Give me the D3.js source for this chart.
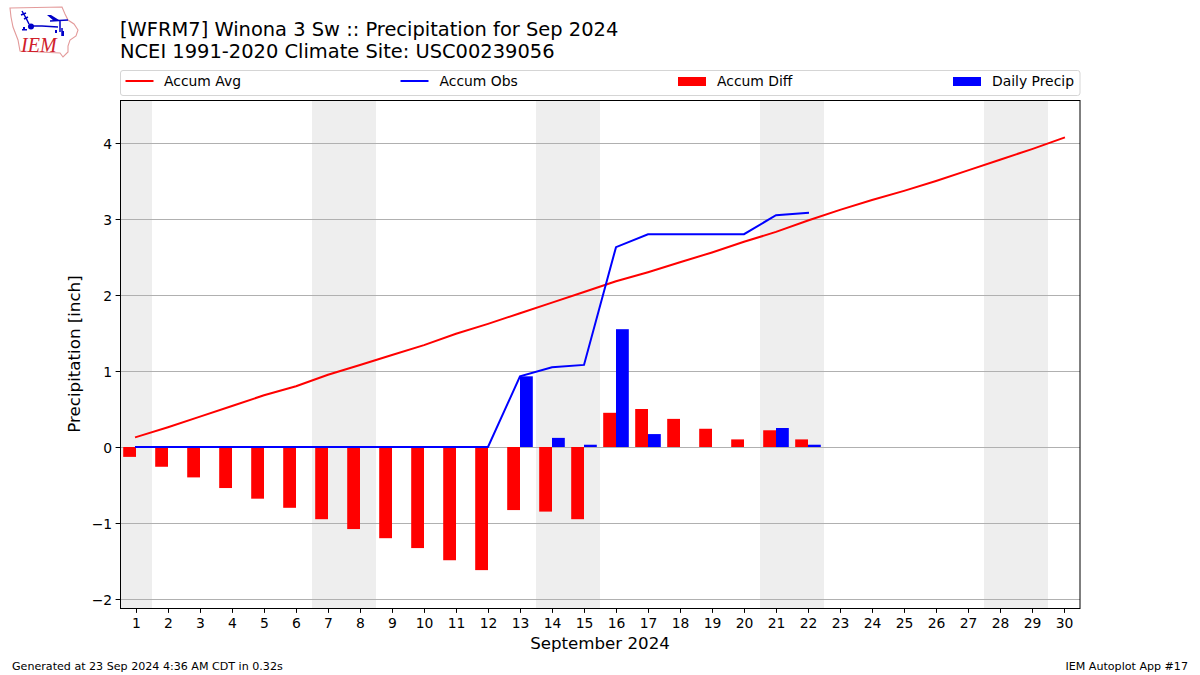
<!DOCTYPE html>
<html><head><meta charset="utf-8">
<script src="https://cdn.jsdelivr.net/npm/d3@7"></script>
<style>html,body{margin:0;padding:0;background:#fff}svg{display:block}text{font-family:"DejaVu Sans",sans-serif;fill:#000}</style>
</head><body><div id="chart"></div>
<script>
const days = d3.range(1, 31);
const accumAvg = [0.13,0.26,0.40,0.54,0.68,0.80,0.95,1.08,1.21,1.34,1.49,1.62,1.76,1.90,2.04,2.18,2.30,2.43,2.56,2.70,2.83,2.98,3.12,3.25,3.37,3.50,3.64,3.78,3.92,4.07];
const accumObs = [0,0,0,0,0,0,0,0,0,0,0,0,0.93,1.05,1.08,2.63,2.80,2.80,2.80,2.80,3.05,3.08];
const accumDiff = [-0.13,-0.26,-0.40,-0.54,-0.68,-0.80,-0.95,-1.08,-1.20,-1.33,-1.49,-1.62,-0.83,-0.85,-0.95,0.45,0.50,0.37,0.24,0.10,0.22,0.10];
const dailyPrecip = [0,0,0,0,0,0,0,0,0,0,0,0,0.93,0.12,0.03,1.55,0.17,0,0,0,0.25,0.03];
const weekendSpans = [[0.5,1.5],[6.5,8.5],[13.5,15.5],[20.5,22.5],[27.5,29.5]];
const yTicks = [-2,-1,0,1,2,3,4];
const legendItems = [
 {label:"Accum Avg",color:"#f00",kind:"line"},
 {label:"Accum Obs",color:"#00f",kind:"line"},
 {label:"Accum Diff",color:"#f00",kind:"bar"},
 {label:"Daily Precip",color:"#00f",kind:"bar"}];
const barWidth = 0.4;

const W=1200,H=675,L=120.5,R=1080,T=100,B=608;
const svg=d3.select("#chart").append("svg").attr("width",W).attr("height",H);
const x=d3.scaleLinear().domain([0.5,30.5]).range([120,1080]);
const y=d3.scaleLinear().domain([0,4]).range([447,143]);

// logo
const logo=svg.append("g").attr("fill","none");
logo.append("path").attr("stroke","#e39a9a").attr("stroke-width",1.1)
 .attr("d","M10,8 L62,7 L65,14 L68,20 L74,24 L78,30 L76,36 L70,40 L68,46 L68,52 L63,57 L60,53 L20,51 L18,40 L13,27 L11,17 Z");
logo.append("path").attr("stroke","#0000c8").attr("stroke-width",1.5)
 .attr("d","M31,26 L42,26 L58,27 M50,21 L68,20 M60,21 L60,32 M62,28 L62,36 M22,11 L26,18 L29,24 M21,15 L26,13 M24,19 L28,17");
logo.append("circle").attr("cx",31).attr("cy",26.5).attr("r",3).attr("fill","#0000c8");
logo.append("path").attr("fill","#0000c8").attr("d","M47,15 L51,15 L59,20 L54,21 Z M55,30 h2 v3 h-2 Z M62,31 h2 v5 h-2 Z M23,27 h2 v2 h-2 Z M22,29 h5 v1.5 h-5 Z");
svg.append("text").attr("x",21).attr("y",52).attr("font-size",20).attr("font-style","italic")
 .style("font-family","'Liberation Serif',serif").style("fill","#d0202a").text("IEM");

// shading
svg.selectAll("rect.wk").data(weekendSpans).join("rect").attr("class","wk")
 .attr("x",d=>x(d[0])).attr("width",d=>x(d[1])-x(d[0])).attr("y",T).attr("height",B-T).attr("fill","#eeeeee");

// grid
svg.selectAll("line.grid").data(yTicks).join("line").attr("class","grid")
 .attr("x1",L).attr("x2",R).attr("y1",d=>y(d)+.5).attr("y2",d=>y(d)+.5).attr("stroke","#b0b0b0").attr("stroke-width",1);

// bars
const zip=(arr)=>arr.map((v,i)=>({day:days[i],v}));
svg.selectAll("rect.diff").data(zip(accumDiff)).join("rect").attr("class","diff")
 .attr("x",d=>x(d.day-barWidth)).attr("width",d=>x(d.day)-x(d.day-barWidth))
 .attr("y",d=>Math.min(y(d.v),y(0))).attr("height",d=>Math.abs(y(d.v)-y(0))).attr("fill","#f00");
svg.selectAll("rect.daily").data(zip(dailyPrecip).filter(d=>d.v>0)).join("rect").attr("class","daily")
 .attr("x",d=>x(d.day)).attr("width",d=>x(d.day+barWidth)-x(d.day))
 .attr("y",d=>y(d.v)).attr("height",d=>y(0)-y(d.v)).attr("fill","#00f");

// lines
const line=d3.line().x(d=>x(d.day)).y(d=>y(d.v));
svg.append("path").datum(zip(accumAvg)).attr("d",line).attr("fill","none").attr("stroke","#f00").attr("stroke-width",2).attr("stroke-linecap","square");
svg.append("path").datum(zip(accumObs)).attr("d",line).attr("fill","none").attr("stroke","#00f").attr("stroke-width",2).attr("stroke-linecap","square");

// axes
const ax=svg.append("g").attr("transform",`translate(0,${B})`)
 .call(d3.axisBottom(x).tickValues(days).tickFormat(d3.format("d")).tickSize(4.9).tickPadding(5));
const ay=svg.append("g").attr("transform",`translate(${L},0)`)
 .call(d3.axisLeft(y).tickValues(yTicks).tickFormat(d=>d<0?"\u2212"+(-d):d).tickSize(4.9).tickPadding(3.5));
[ax,ay].forEach(g=>{g.select(".domain").remove();g.selectAll("text").attr("font-size",13.9).style("font-family","'DejaVu Sans'");g.selectAll("line").attr("stroke","#000").attr("stroke-width",1);});
ay.selectAll("text").attr("dy","0.39em");
svg.append("rect").attr("x",L).attr("y",T+.5).attr("width",R-L).attr("height",B-T).attr("fill","none").attr("stroke","#000").attr("stroke-width",1);

// labels
svg.append("text").attr("x",600).attr("y",649).attr("text-anchor","middle").attr("font-size",16.67).text("September 2024");
svg.append("text").attr("transform","translate(80,354) rotate(-90)").attr("text-anchor","middle").attr("font-size",16.67).text("Precipitation [inch]");
svg.append("text").attr("x",120).attr("y",36).attr("font-size",19.44).text("[WFRM7] Winona 3 Sw :: Precipitation for Sep 2024");
svg.append("text").attr("x",120).attr("y",58).attr("font-size",19.44).text("NCEI 1991-2020 Climate Site: USC00239056");
svg.append("text").attr("x",12).attr("y",670).attr("font-size",11.1).text("Generated at 23 Sep 2024 4:36 AM CDT in 0.32s");
svg.append("text").attr("x",1188).attr("y",670).attr("text-anchor","end").attr("font-size",11.1).text("IEM Autoplot App #17");

// legend
svg.append("rect").attr("x",120.5).attr("y",70.5).attr("width",959.5).attr("height",25).attr("rx",2.5)
 .attr("fill","#fff").attr("stroke","#d5d5d5").attr("stroke-width",1);
const legX=[125.5,400.5,678,953];
const leg=svg.selectAll("g.leg").data(legendItems).join("g").attr("class","leg").attr("transform",(d,i)=>`translate(${legX[i]},0)`);
leg.filter(d=>d.kind==="line").append("line").attr("x1",0).attr("x2",28).attr("y1",81).attr("y2",81).attr("stroke",d=>d.color).attr("stroke-width",2);
leg.filter(d=>d.kind==="bar").append("rect").attr("x",0).attr("width",28).attr("y",77).attr("height",9).attr("fill",d=>d.color);
leg.append("text").attr("x",d=>d.label==="Accum Avg"?38.5:39).attr("y",86).attr("font-size",13.9).text(d=>d.label);
</script></body></html>
